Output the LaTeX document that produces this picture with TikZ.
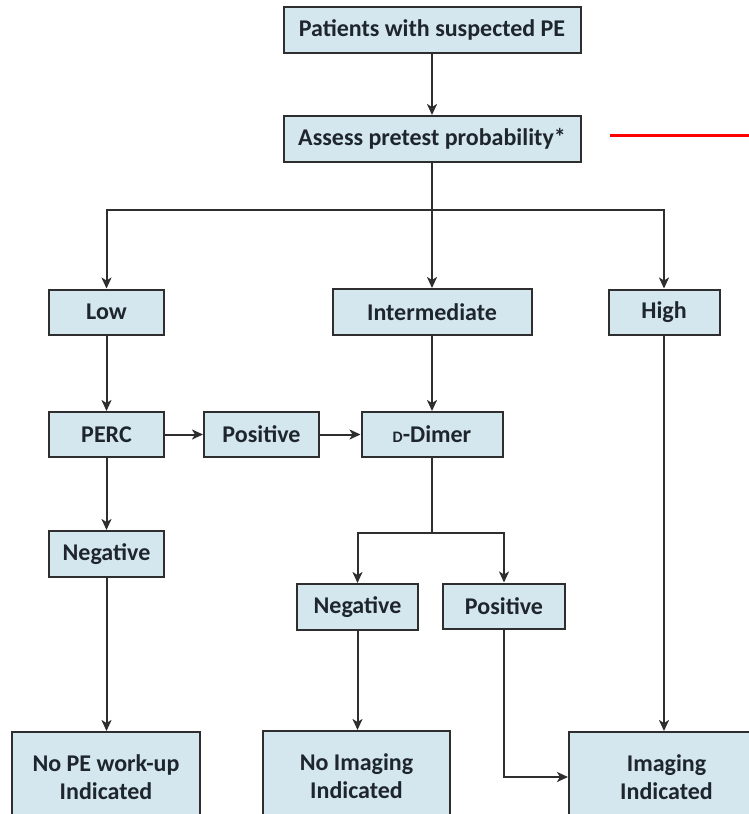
\documentclass[tikz,border=0pt]{standalone}
\usepackage{fontspec}
\setmainfont{Carlito}
\usetikzlibrary{arrows.meta}
\definecolor{boxfill}{HTML}{D4E7EE}
\definecolor{boxline}{HTML}{2E2E2E}
\definecolor{txt}{HTML}{1E252D}
\tikzset{
  box/.style={draw=boxline, fill=boxfill, line width=2pt, inner sep=0pt,
    text=txt, font=\fontsize{24}{28}\selectfont\bfseries, align=center},
  conn/.style={draw=boxline, line width=2pt, -{Stealth[length=11pt,width=10pt,inset=3pt]}},
  plain/.style={draw=boxline, line width=2pt}
}
\begin{document}
\begin{tikzpicture}[x=1pt,y=-1pt]
\useasboundingbox (0,0) rectangle (749,814);
\clip (0,0) rectangle (749,814);
\node[box, minimum width=297pt, minimum height=46pt] (top) at (432,30) {Patients with suspected PE};
\node[box, minimum width=297pt, minimum height=46pt] (assess) at (432,139) {Assess pretest probability*};
\node[box, minimum width=115pt, minimum height=45pt] (low) at (106.5,312) {Low};
\node[box, minimum width=199pt, minimum height=46pt] (inter) at (432,312) {Intermediate};
\node[box, minimum width=111pt, minimum height=45pt] (high) at (664,312) {High};
\node[box, minimum width=115pt, minimum height=45pt] (perc) at (106.5,434.5) {PERC};
\node[box, minimum width=115pt, minimum height=45pt] (pos1) at (261.5,434.5) {Positive};
\node[box, minimum width=141pt, minimum height=45pt] (dd) at (432,434.5) {{\fontsize{16}{16}\selectfont D}-Dimer};
\node[box, minimum width=115pt, minimum height=46pt] (neg1) at (106.5,554) {Negative};
\node[box, minimum width=121pt, minimum height=46pt] (neg2) at (357.5,607) {Negative};
\node[box, minimum width=122pt, minimum height=45pt] (pos2) at (504,606) {Positive};
\node[box, minimum width=188pt, minimum height=90pt] (nope) at (106,777) {No PE work-up\\Indicated};
\node[box, minimum width=187pt, minimum height=90pt] (noimg) at (356.5,776) {No Imaging\\Indicated};
\node[box, minimum width=195pt, minimum height=90pt] (img) at (666.5,777) {Imaging\\Indicated};
\coordinate (split) at (432,210);
\coordinate (ddsplit) at (432,533);
\coordinate (redA) at (610,135);
\coordinate (redB) at (749,135);
\draw[conn] (top) -- (assess);
\draw[conn] (assess) -- (inter);
\draw[conn] (split) -| (low.north);
\draw[conn] (split) -| (high.north);
\draw[conn] (low) -- (perc);
\draw[conn] (perc) -- (pos1);
\draw[conn] (pos1) -- (dd);
\draw[conn] (inter) -- (dd);
\draw[conn] (perc) -- (neg1);
\draw[conn] (neg1) -- (nope.north -| neg1);
\draw[plain] (dd.south) -- (ddsplit);
\draw[conn] (ddsplit) -| (neg2.north);
\draw[conn] (ddsplit) -| (pos2.north);
\draw[conn] (neg2) -- (noimg.north -| neg2);
\draw[conn] (pos2.south) |- (img.west);
\draw[conn] (high) -- (img.north -| high);
\draw[red, line width=3pt] (redA) -- (redB);
\end{tikzpicture}
\end{document}
